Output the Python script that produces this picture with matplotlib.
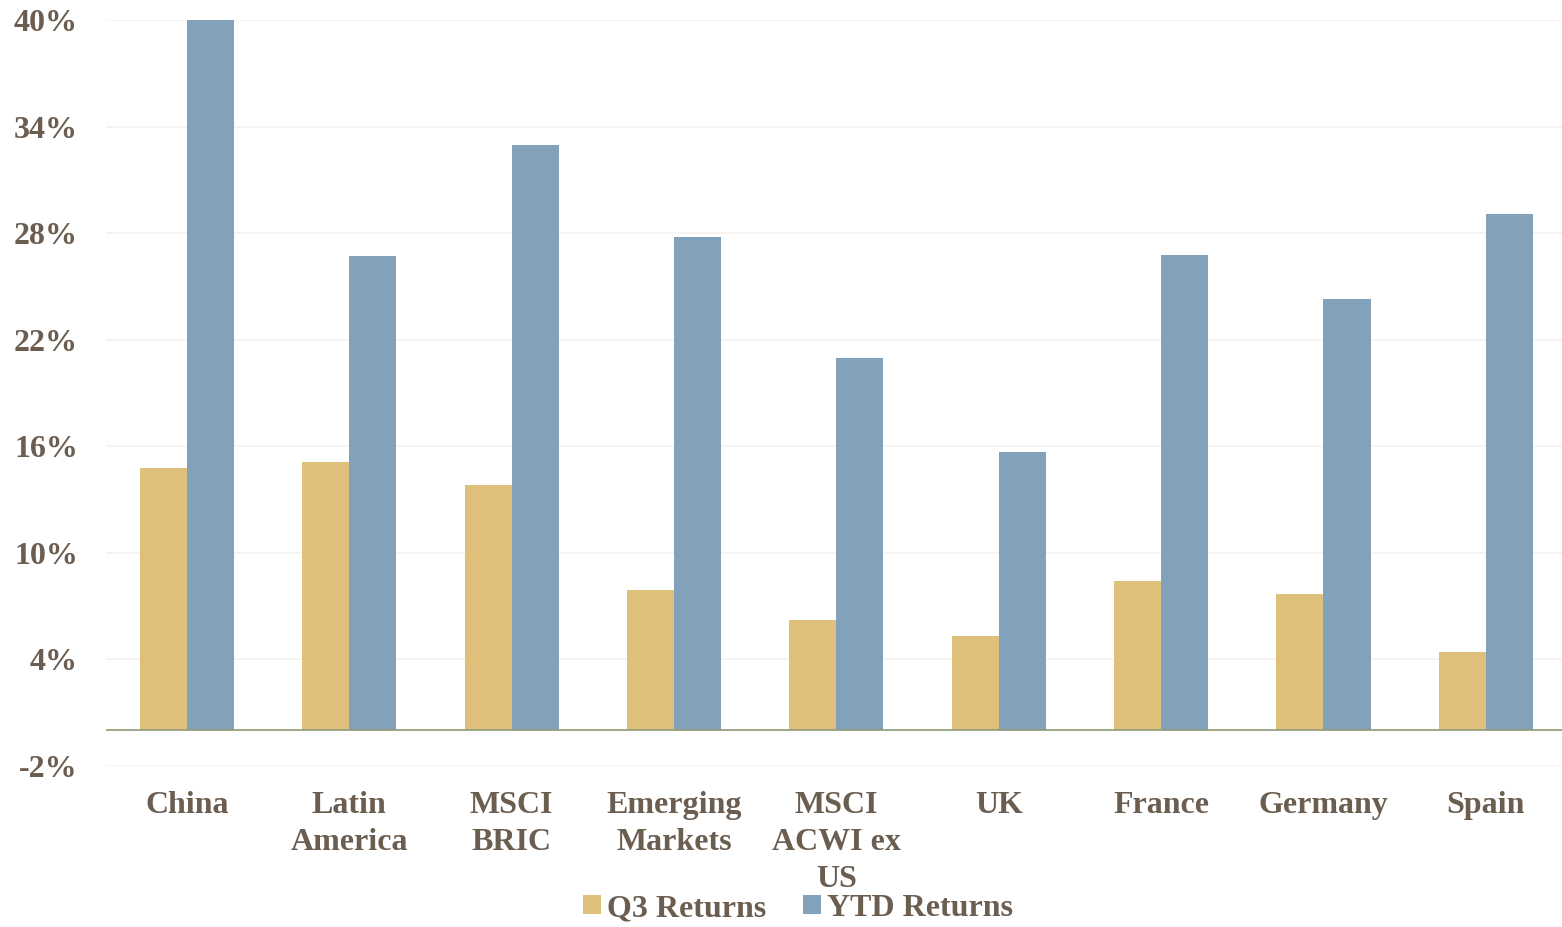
import matplotlib.pyplot as plt
import numpy as np

categories = ["China", "Latin\nAmerica", "MSCI\nBRIC", "Emerging\nMarkets",
              "MSCI\nACWI ex\nUS", "UK", "France", "Germany", "Spain"]
q3_returns = [14.8, 15.1, 13.8, 7.9, 6.2, 5.3, 8.4, 7.7, 4.4]
ytd_returns = [40.0, 26.7, 33.0, 27.8, 21.0, 15.7, 26.8, 24.3, 29.1]
yticks = [-2, 4, 10, 16, 22, 28, 34, 40]

text_color = "#6b5d50"
gold = "#dec07a"
blue = "#82a1ba"

plt.rcParams['font.family'] = ['Liberation Serif', 'DejaVu Serif']
plt.rcParams['font.weight'] = 'bold'

fig = plt.figure(figsize=(15.62, 9.27), dpi=100)
ax = fig.add_axes([0.0677, 0.174, 0.9355, 0.804])

x = np.arange(len(categories))
w = 0.29
ax.bar(x - w / 2, q3_returns, w, color=gold, label="Q3 Returns", zorder=2)
ax.bar(x + w / 2, ytd_returns, w, color=blue, label="YTD Returns", zorder=2)

ax.set_xlim(-0.5, len(categories) - 0.5)
ax.set_ylim(-2, 40)
ax.set_yticks(yticks)
ax.set_yticklabels([f"{t}%" for t in yticks])
ax.set_xticks(x)
ax.set_xticklabels(categories, linespacing=1.36)
ax.tick_params(axis='y', length=0, pad=20, labelsize=23, labelcolor=text_color)
ax.tick_params(axis='x', length=0, pad=18, labelsize=23, labelcolor=text_color)

ax.grid(axis='y', color="#f4f2ee", linewidth=1.2, zorder=0)
ax.axhline(0, color="#8f9a74", linewidth=1.2, zorder=3)
for s in ax.spines.values():
    s.set_visible(False)

leg = fig.legend(loc='center', bbox_to_anchor=(0.511, 0.02), ncol=2, frameon=False,
                 fontsize=23, labelcolor=text_color, handlelength=0.55, handleheight=0.55,
                 handletextpad=0.2, columnspacing=1.15)

fig.savefig("out.png", dpi=100)
